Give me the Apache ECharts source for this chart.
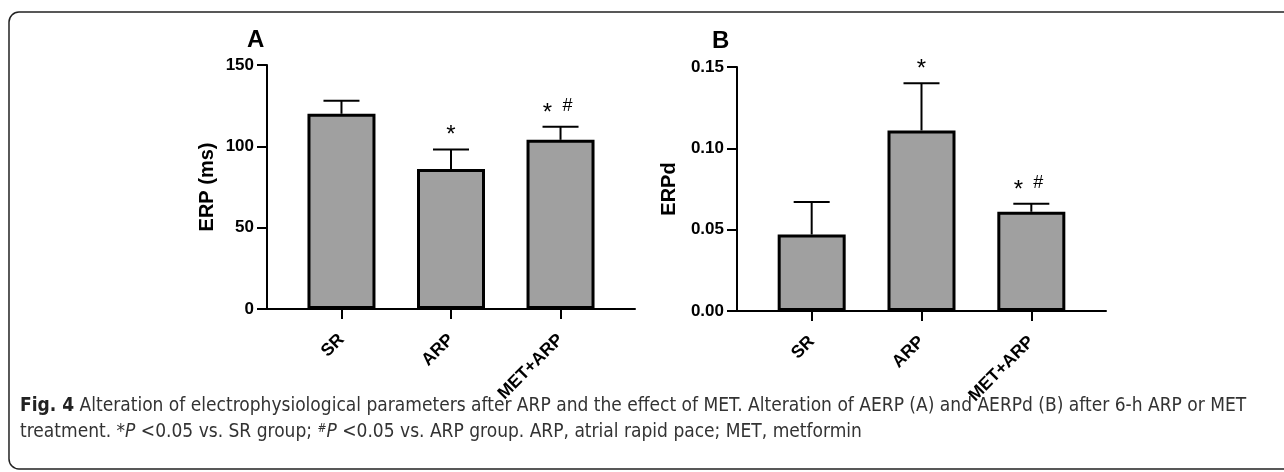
<!DOCTYPE html>
<html>
<head>
<meta charset="utf-8">
<script src="https://cdn.jsdelivr.net/npm/echarts@6/dist/echarts.min.js"></script>
<style>
  html, body { margin: 0; padding: 0; background: #fff; }
  #chart { width: 1284px; height: 472px; }
</style>
</head>
<body>
<div id="chart"></div>
<script>
// data
var groups = ['SR', 'ARP', 'MET+ARP'];
var erpMean = [120, 86, 104];
var erpErr = [8, 12, 8];
var erpMarks = ['', '*', '*#'];
var erpdMean = [0.047, 0.111, 0.061];
var erpdErr = [0.020, 0.029, 0.005];
var erpdMarks = ['', '*', '*#'];

var chart = echarts.init(document.getElementById('chart'));
var fontBold = 'Arial, "Liberation Sans", sans-serif';
var capFam = '"Liberation Sans Narrow", "DejaVu Sans Condensed", "Open Sans", sans-serif';

function pairs(mean) {
  return mean.map(function (v, i) { return [i, v]; });
}
function triples(mean, err) {
  return mean.map(function (v, i) { return [i, v, err[i]]; });
}
var marksBySeries = { 1: erpMarks, 3: erpdMarks };

// upward error bar + significance marks
function renderErr(params, api) {
  var x = api.value(0), m = api.value(1), e = api.value(2);
  var mark = marksBySeries[params.seriesIndex][params.dataIndex];
  var base = api.coord([x, m]);
  var top = api.coord([x, m + e]);
  var kids = [
    { type: 'line', shape: { x1: base[0], y1: base[1], x2: top[0], y2: top[1] },
      style: { stroke: '#000', lineWidth: 2 } },
    { type: 'line', shape: { x1: top[0] - 18, y1: top[1], x2: top[0] + 18, y2: top[1] },
      style: { stroke: '#000', lineWidth: 2 } }
  ];
  if (mark === '*') {
    kids.push({ type: 'text', x: top[0], y: top[1] - 14,
      style: { text: '*', font: '24px ' + fontBold, fill: '#000', align: 'center', verticalAlign: 'middle' } });
  } else if (mark === '*#') {
    kids.push({ type: 'text', x: top[0] - 13, y: top[1] - 13,
      style: { text: '*', font: '24px ' + fontBold, fill: '#000', align: 'center', verticalAlign: 'middle' } });
    kids.push({ type: 'text', x: top[0] + 7, y: top[1] - 21,
      style: { text: '#', font: '18px ' + fontBold, fill: '#000', align: 'center', verticalAlign: 'middle' } });
  }
  return { type: 'group', children: kids };
}

function xAx(idx) {
  return {
    type: 'value', gridIndex: idx, min: -0.68, max: 2.68,
    axisLine: { lineStyle: { color: '#000', width: 2 } },
    axisTick: { customValues: [0, 1, 2], length: 10, lineStyle: { color: '#000', width: 2 } },
    axisLabel: {
      customValues: [0, 1, 2], rotate: 45, margin: 28,
      color: '#000', fontWeight: 'bold', fontSize: 17.5, fontFamily: fontBold,
      formatter: function (v) { return groups[Math.round(v)]; }
    },
    splitLine: { show: false }
  };
}
function yAx(idx, max, step, name, gap, fmt) {
  return {
    type: 'value', gridIndex: idx, min: 0, max: max, interval: step,
    name: name, nameLocation: 'middle', nameGap: gap, nameRotate: 90,
    nameTextStyle: { color: '#000', fontWeight: 'bold', fontSize: 20, fontFamily: fontBold },
    axisLine: { show: true, onZero: false, lineStyle: { color: '#000', width: 2 } },
    axisTick: { show: true, length: 10, lineStyle: { color: '#000', width: 2 } },
    axisLabel: { color: '#000', fontWeight: 'bold', fontSize: 17, fontFamily: fontBold, margin: 13, formatter: fmt },
    splitLine: { show: false }
  };
}

var option = {
  animation: false,
  backgroundColor: '#fff',
  title: [
    { text: 'A', left: 242, top: 23, textStyle: { fontSize: 24, fontWeight: 'bold', fontFamily: fontBold, color: '#000' } },
    { text: 'B', left: 707, top: 24, textStyle: { fontSize: 24, fontWeight: 'bold', fontFamily: fontBold, color: '#000' } }
  ],
  grid: [
    { left: 267, top: 65, width: 368, height: 244 },
    { left: 737, top: 67, width: 369, height: 244 }
  ],
  xAxis: [xAx(0), xAx(1)],
  yAxis: [
    yAx(0, 150, 50, 'ERP (ms)', 50, function (v) { return v; }),
    yAx(1, 0.15, 0.05, 'ERPd', 58, function (v) { return v.toFixed(2); })
  ],
  series: [
    { type: 'bar', xAxisIndex: 0, yAxisIndex: 0, barWidth: 68, z: 3, data: pairs(erpMean),
      itemStyle: { color: '#a0a0a0', borderColor: '#000', borderWidth: 3 } },
    { type: 'custom', xAxisIndex: 0, yAxisIndex: 0, z: 2, renderItem: renderErr,
      data: triples(erpMean, erpErr) },
    { type: 'bar', xAxisIndex: 1, yAxisIndex: 1, barWidth: 68, z: 3, data: pairs(erpdMean),
      itemStyle: { color: '#a0a0a0', borderColor: '#000', borderWidth: 3 } },
    { type: 'custom', xAxisIndex: 1, yAxisIndex: 1, z: 2, renderItem: renderErr,
      data: triples(erpdMean, erpdErr) }
  ],
  graphic: [
    { type: 'rect', shape: { x: 9, y: 12, width: 1320, height: 457, r: 10 },
      style: { fill: 'none', stroke: '#222', lineWidth: 1.5 }, z: 0 },
    { type: 'text', left: 20, top: 397,
      style: {
        text: '{b|Fig. 4}{n| Alteration of electrophysiological parameters after ARP and the effect of MET. Alteration of AERP (A) and AERPd (B) after 6-h ARP or MET}',
        fill: '#333',
        rich: {
          b: { font: 'bold 19px ' + capFam, fill: '#222' },
          n: { font: '19px ' + capFam, fill: '#333' }
        }
      } },
    { type: 'text', left: 20, top: 423,
      style: {
        text: '{n|treatment. *}{i|P}{n| <0.05 vs. SR group; }{s|#}{i|P}{n| <0.05 vs. ARP group. ARP, atrial rapid pace; MET, metformin}',
        fill: '#333',
        rich: {
          n: { font: '19px ' + capFam, fill: '#333' },
          i: { font: 'italic 19px ' + capFam, fill: '#333' },
          s: { font: 'italic 12px ' + capFam, fill: '#333', verticalAlign: 'top' }
        }
      } }
  ]
};
chart.setOption(option);
</script>
</body>
</html>
